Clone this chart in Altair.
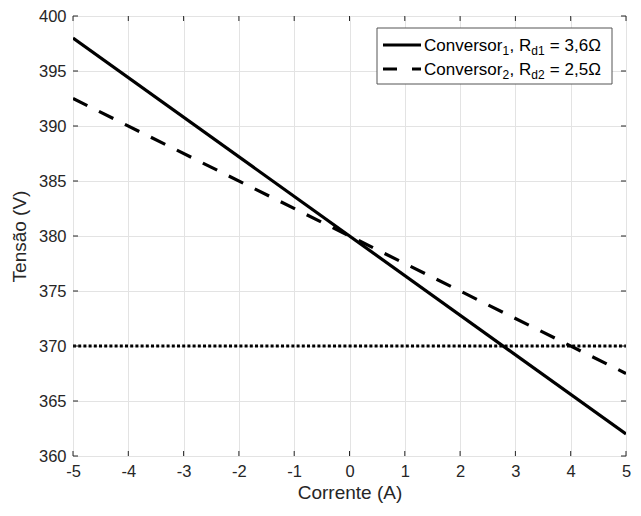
import altair as alt
import pandas as pd

# ---- data ----
corrente = [-5, 5]
tensao_1 = [398.0, 362.0]      # Conversor 1, Rd1 = 3,6 ohm
tensao_2 = [392.5, 367.5]      # Conversor 2, Rd2 = 2,5 ohm
tensao_ref = [370.0, 370.0]    # dotted reference line

x_ticks = [-5, -4, -3, -2, -1, 0, 1, 2, 3, 4, 5]
y_ticks = [360, 365, 370, 375, 380, 385, 390, 395, 400]

W, H = 553, 440
FONT = "Liberation Sans"
INK = "#262626"

df = pd.DataFrame({
    "I": corrente * 3,
    "V": tensao_1 + tensao_2 + tensao_ref,
    "s": ["c1"] * 2 + ["c2"] * 2 + ["ref"] * 2,
})

xs = alt.Scale(domain=[-5, 5], nice=False, zero=False)
ys = alt.Scale(domain=[360, 400], nice=False, zero=False)

common = dict(ticks=False, domain=False, grid=True, gridColor="#e3e3e3",
              labelFont=FONT, labelFontSize=16.5, labelColor=INK,
              titleFont=FONT, titleFontSize=19, titleFontWeight="normal",
              titleColor=INK, labelFlush=False, labelExpr="'' + datum.value")
x_axis = alt.Axis(values=x_ticks, title="Corrente (A)", labelPadding=7,
                  titlePadding=4, **common)
y_axis = alt.Axis(values=y_ticks, title="Tensão (V)", labelPadding=7,
                  titlePadding=9, **common)

base = alt.Chart(df)

grid_layer = alt.Chart(pd.DataFrame({"I": [0], "V": [380]})).mark_point(opacity=0).encode(
    x=alt.X("I:Q", scale=xs, axis=x_axis),
    y=alt.Y("V:Q", scale=ys, axis=y_axis),
)

def line(name, dash):
    props = dict(color="black", strokeWidth=3.2, clip=True)
    if dash:
        props["strokeDash"] = dash
    return base.transform_filter(alt.datum.s == name).mark_line(**props).encode(
        x=alt.X("I:Q", scale=xs), y=alt.Y("V:Q", scale=ys))

l1 = line("c1", None)
l2 = line("c2", [16, 13])
l3 = line("ref", [3, 2.2])

# inward ticks on all four sides
xt = pd.DataFrame({"I": x_ticks})
yt = pd.DataFrame({"V": y_ticks})
tick_b = alt.Chart(xt).mark_rule(color=INK, strokeWidth=1).encode(
    x=alt.X("I:Q", scale=xs), y=alt.value(H), y2=alt.value(H - 5))
tick_t = alt.Chart(xt).mark_rule(color=INK, strokeWidth=1).encode(
    x=alt.X("I:Q", scale=xs), y=alt.value(0), y2=alt.value(5))
tick_l = alt.Chart(yt).mark_rule(color=INK, strokeWidth=1).encode(
    y=alt.Y("V:Q", scale=ys), x=alt.value(0), x2=alt.value(5))
tick_r = alt.Chart(yt).mark_rule(color=INK, strokeWidth=1).encode(
    y=alt.Y("V:Q", scale=ys), x=alt.value(W), x2=alt.value(W - 5))

# ---- legend (manual, to allow subscripts) ----
LX1 = W - 14
LX0 = LX1 - 235
LY0, LY1 = 12, 68
leg_box = alt.Chart(pd.DataFrame({"a": [0]})).mark_rect(
    fill="white", stroke="#555555", strokeWidth=1).encode(
    x=alt.value(LX0), x2=alt.value(LX1), y=alt.value(LY0), y2=alt.value(LY1))

row_y = [29, 53]
leg_lines = []
for ry, dash in zip(row_y, [None, [14, 15]]):
    props = dict(color="black", strokeWidth=3.2)
    if dash:
        props["strokeDash"] = dash
    leg_lines.append(alt.Chart(pd.DataFrame({"a": [0]})).mark_rule(**props).encode(
        x=alt.value(LX0 + 6), x2=alt.value(LX0 + 44), y=alt.value(ry)))

W_EM = {"C": .722, "o": .556, "n": .556, "v": .5, "e": .556, "r": .333, "s": .5,
        "1": .556, "2": .556, "3": .556, "5": .556, "6": .556, ",": .278, " ": .278,
        "R": .722, "d": .556, "=": .584, "Ω": .768}
MAIN, SUB = 17, 12

def width(t, fs):
    return sum(W_EM.get(c, .556) for c in t) * fs

leg_labels = [
    [("Conversor", False), ("1", True), (", R", False), ("d1", True), ("= 3,6Ω", False)],
    [("Conversor", False), ("2", True), (", R", False), ("d2", True), ("= 2,5Ω", False)],
]
rows = []
for ry, segs in zip(row_y, leg_labels):
    px = LX0 + 47
    for k, (t, sub) in enumerate(segs):
        fs = SUB if sub else MAIN
        if k == 4:
            px += W_EM[" "] * MAIN
        rows.append({"t": t, "px": px, "py": ry + (10 if sub else 6), "fs": fs})
        px += width(t, fs) + (0.5 if sub else 0)
leg_text = alt.Chart(pd.DataFrame(rows)).mark_text(
    align="left", baseline="alphabetic", font=FONT, color="black").encode(
    x=alt.X("px:Q", scale=None), y=alt.Y("py:Q", scale=None),
    size=alt.Size("fs:Q", scale=None, legend=None), text="t:N")

chart = alt.layer(
    grid_layer, l1, l2, l3, tick_b, tick_t, tick_l, tick_r,
    leg_box, *leg_lines, leg_text,
).properties(
    width=W, height=H,
    autosize=alt.AutoSizeParams(type="none"),
    padding={"left": 65, "top": 8, "right": 7, "bottom": 50},
).configure_view(stroke=INK, strokeWidth=1).configure(background="white")

chart.save("out.html", embed_options={"renderer": "svg", "actions": False})
